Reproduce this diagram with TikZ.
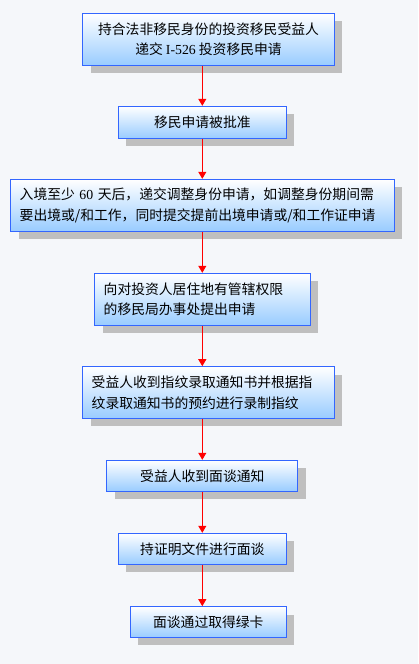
\documentclass[tikz,border=0pt]{standalone}
\usepackage{fontspec}
\setmainfont{Noto Sans CJK SC}
\newfontfamily\latinserif{Liberation Serif}
\usetikzlibrary{arrows.meta, shadows}
\definecolor{pagebg}{HTML}{F5F7FA}
\definecolor{stepline}{HTML}{3366FF}
\definecolor{stepfill}{HTML}{99CCFF}
\definecolor{stepshadow}{HTML}{BFBFBF}
\definecolor{flowred}{HTML}{FF0000}

\begin{document}
\begin{tikzpicture}[x=1pt, y=-1pt,
    stepbox/.style={draw=stepline, line width=1pt, top color=white, bottom color=stepfill,
      drop shadow={shadow xshift=8pt, shadow yshift=-8pt, fill=stepshadow, opacity=1},
      inner xsep=9pt, inner ysep=0pt, font=\fontsize{13.8}{20.5}\selectfont},
    flow/.style={draw=flowred, line width=1pt, -{Triangle[length=7pt, width=8pt]}}]
        % Page
        \fill[pagebg] (0,0) rectangle (418,664);
        \coordinate (spine) at (202.3,0);

        % Steps
        \node[stepbox, minimum width=251.6pt, minimum height=51.7pt, align=center] (petition) at (208.5,39.2) {持合法非移民身份的投资移民受益人\\递交 {\latinserif I-526} 投资移民申请};
        \node[stepbox, minimum width=168pt, minimum height=32pt] (approved) at (202.3,122.3) {移民申请被批准};
        \node[stepbox, text width=365.6pt, minimum height=52pt, align=left] (adjust) at (202.5,205.3) {入境至少 {\latinserif 60} 天后，递交调整身份申请，如调整身份期间需\\要出境或/和工作，同时提交提前出境申请或/和工作证申请};
        \node[stepbox, text width=197.6pt, minimum height=52pt, align=left] (office) at (202.5,299.3) {向对投资人居住地有管辖权限\\的移民局办事处提出申请};
        \node[stepbox, text width=233.6pt, minimum height=51.6pt, align=left] (prints) at (208.5,392.5) {受益人收到指纹录取通知书并根据指\\纹录取通知书的预约进行录制指纹};
        \node[stepbox, minimum width=191.3pt, minimum height=31pt] (notice) at (202.3,475.8) {受益人收到面谈通知};
        \node[stepbox, minimum width=168pt, minimum height=31pt] (interview) at (202.3,548.8) {持证明文件进行面谈};
        \node[stepbox, minimum width=156pt, minimum height=30.7pt] (greencard) at (208.3,622) {面谈通过取得绿卡};

        % Arrows
        \draw[flow] (petition.south -| spine) -- (approved.north -| spine);
        \draw[flow] (approved.south -| spine) -- (adjust.north -| spine);
        \draw[flow] (adjust.south -| spine) -- (office.north -| spine);
        \draw[flow] (office.south -| spine) -- (prints.north -| spine);
        \draw[flow] (prints.south -| spine) -- (notice.north -| spine);
        \draw[flow] (notice.south -| spine) -- (interview.north -| spine);
        \draw[flow] (interview.south -| spine) -- (greencard.north -| spine);
    \end{tikzpicture}
\end{document}
